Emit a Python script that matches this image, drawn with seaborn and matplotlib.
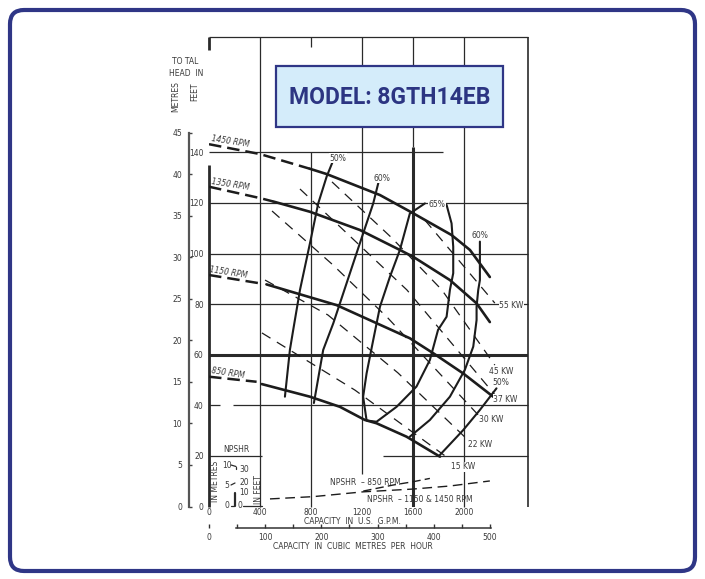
import numpy as np
import pandas as pd
import matplotlib
matplotlib.use("Agg")
import matplotlib.pyplot as plt
import matplotlib.patches as mpatches
from matplotlib.lines import Line2D
import seaborn as sns

# ---------------- data ----------------
gpm_ticks = [0, 400, 800, 1200, 1600, 2000]
ft_ticks = [0, 20, 40, 60, 80, 100, 120, 140]
m_ticks = [0, 5, 10, 15, 20, 25, 30, 35, 40, 45]
m3h_ticks = [0, 100, 200, 300, 400, 500]
m3h_minor = [50, 150, 250, 350, 450]

# head-capacity curves (US gpm, feet); dashed part = outside operating range
h1450_dash_q = [0, 400, 790]
h1450_dash_h = [143.2, 139.3, 133.5]
h1450_q = [790, 922, 1340, 1600, 1901, 2045, 2201]
h1450_h = [133.5, 131.4, 123.1, 115.9, 107.3, 101.4, 90.7]

h1350_dash_q = [0, 400, 500]
h1350_dash_h = [126.4, 121.9, 120.6]
h1350_q = [500, 791, 1182, 1496, 1600, 1888, 2097, 2201]
h1350_h = [120.6, 116.5, 109.3, 101.4, 98.7, 89.5, 80.3, 72.9]

h1150_dash_q = [0, 400]
h1150_dash_h = [91.5, 88.2]
h1150_q = [450, 1000, 1574, 1757, 1992, 2227]
h1150_h = [87.8, 79.6, 66.5, 60.6, 52.6, 43.4]

h850_dash_q = [0, 373]
h850_dash_h = [51.3, 49.3]
h850_q = [413, 791, 1026, 1222, 1313, 1548, 1810]
h850_h = [48.4, 43.4, 39.4, 34.2, 32.9, 27.6, 19.7]

# iso-efficiency curves
eff50_left_q = [975, 922, 856, 791, 713, 660, 634, 595]
eff50_left_h = [137.0, 130.4, 119.8, 104.0, 85.6, 69.8, 61.9, 43.4]
eff60_left_q = [1335, 1287, 1182, 1078, 974, 895, 822]
eff60_left_h = [129.5, 119.8, 104.0, 88.2, 72.4, 61.9, 40.9]
eff65_q = [1862, 1901, 1914, 1914, 1888, 1862, 1795, 1731, 1626, 1470, 1313,
           1235, 1208, 1235, 1287, 1340, 1418, 1496, 1574, 1692]
eff65_h = [119.2, 111.9, 102.7, 92.2, 85.6, 75.0, 69.8, 57.9, 47.4, 39.4, 33.5,
           34.0, 43.4, 52.6, 65.8, 79.0, 90.8, 101.4, 115.8, 119.8]
eff60_right_q = [2123, 2123, 2110, 2097, 2097, 2071, 2005, 1888, 1731, 1574]
eff60_right_h = [104.7, 89.5, 85.6, 79.0, 73.7, 63.2, 54.0, 43.4, 34.2, 27.6]
eff50_right_q = [2253, 2122, 1992, 1810]
eff50_right_h = [46.7, 38.1, 30.2, 20.4]

# constant-power lines (kW)
kw55_q = [1692, 2240]
kw55_h = [113.2, 80.4]
kw45_q = [964, 1434, 1825, 2240]
kw45_h = [128.3, 106.1, 85.6, 55.9]
kw37_q = [713, 1551, 2248]
kw37_h = [125.5, 85.6, 43.7]
kw30_q = [494, 971, 1402, 2139]
kw30_h = [116.8, 95.5, 74.5, 34.6]
kw22_q = [439, 932, 1481, 2029]
kw22_h = [89.5, 75.7, 52.8, 26.3]
kw15_q = [415, 1144, 1872]
kw15_h = [68.6, 46.0, 19.2]

# NPSHR curves (plotted on the main feet grid)
npsh_hi_q = [478, 817, 1209, 1600, 1888, 2201]
npsh_hi_h = [3.0, 3.9, 5.8, 6.9, 8.1, 10.1]
npsh_850_q = [1209, 1444, 1600, 1731]
npsh_850_h = [6.1, 8.5, 9.8, 11.1]

rpm_labels = ["1450 RPM", "1350 RPM", "1150 RPM", "850 RPM"]
rpm_label_q = [164, 164, 149, 149]
rpm_label_h = [144.2, 127.4, 92.6, 52.9]

eff_labels = ["50%", "60%", "65%", "60%", "50%"]
eff_label_q = [1013, 1354, 1786, 2123, 2287]
eff_label_h = [137.7, 129.8, 119.4, 107.3, 49.1]

kw_labels = ["55 KW", "45 KW", "37 KW", "30 KW", "22 KW", "15 KW"]
kw_label_q = [2371, 2293, 2324, 2215, 2123, 1992]
kw_label_h = [79.6, 53.3, 42.4, 34.5, 24.7, 15.7]

# ---------------- styling ----------------
sns.set_style("white")
plt.rcParams["font.family"] = ["Liberation Sans Narrow", "DejaVu Sans"]

W, H = 705, 579
INK = "#1c1c1c"
GRID = "#2a2a2a"
TXT = "#3a3a3a"
NAVY = "#2f3686"
FS = 5.5

fig = plt.figure(figsize=(W / 100, H / 100), dpi=100)
fig.patch.set_facecolor("white")

X0, X1 = 209, 528          # pixel columns of 0 and 2500 gpm
Y0, Y1 = 506.5, 37         # pixel rows of 0 ft and top of grid
QMAX = 2500
HMAX = (Y0 - Y1) / 2.53

ax = fig.add_axes([X0 / W, 1 - Y0 / H, (X1 - X0) / W, (Y0 - Y1) / H])
ax.set_xlim(0, QMAX)
ax.set_ylim(0, HMAX)
ax.set_facecolor("none")
for s in ax.spines.values():
    s.set_visible(False)


def fx(x, y):
    return (x / W, 1 - y / H)


# ---------- grid / frame lines ----------
gk = dict(color=GRID, lw=0.9, zorder=1, clip_on=False)
ax.hlines(140, 0, 1830, **gk)
for lvl in [120, 100, 80]:
    ax.hlines(lvl, 0, QMAX, **gk)
ax.hlines(60, 0, QMAX, color=GRID, lw=2.2, zorder=1)
ax.hlines(40, 0, 86, **gk)
ax.hlines(40, 188, QMAX, **gk)
ax.hlines(20, 0, 415, **gk)
ax.hlines(20, 1360, QMAX, **gk)
ax.hlines(HMAX, 0, QMAX, **gk)

ax.vlines(400, 0, HMAX, **gk)
ax.vlines(800, 0, 140, **gk)
ax.vlines(800, HMAX - 4, HMAX, **gk)
ax.vlines(1200, 13, HMAX, **gk)
ax.vlines(1600, 142, HMAX, **gk)
ax.vlines(1600, 0, 142, color=GRID, lw=2.2, zorder=1)
ax.vlines(2000, 0, HMAX, **gk)
ax.vlines(QMAX, 0, HMAX, color=GRID, lw=1.2, zorder=1, clip_on=False)
ax.vlines(0, 0, 135, color=GRID, lw=2.0, zorder=1, clip_on=False)
ax.vlines(0, HMAX - 5, HMAX, color=GRID, lw=2.0, zorder=1, clip_on=False)

# ---------- curves ----------
def line(q, h, lw, ls="-", z=3):
    sns.lineplot(x=q, y=h, ax=ax, sort=False, estimator=None, color=INK,
                 lw=lw, linestyle=ls, zorder=z, legend=False)


for dq, dh, q, h in [(h1450_dash_q, h1450_dash_h, h1450_q, h1450_h),
                     (h1350_dash_q, h1350_dash_h, h1350_q, h1350_h),
                     (h1150_dash_q, h1150_dash_h, h1150_q, h1150_h),
                     (h850_dash_q, h850_dash_h, h850_q, h850_h)]:
    line(dq, dh, 1.8, (0, (5, 2.4)))
    line(q, h, 1.9)

for q, h in [(eff50_left_q, eff50_left_h), (eff60_left_q, eff60_left_h),
             (eff65_q, eff65_h), (eff60_right_q, eff60_right_h),
             (eff50_right_q, eff50_right_h)]:
    line(q, h, 1.5)

for q, h in [(kw55_q, kw55_h), (kw45_q, kw45_h), (kw37_q, kw37_h),
             (kw30_q, kw30_h), (kw22_q, kw22_h), (kw15_q, kw15_h)]:
    line(q, h, 0.9, (0, (8, 6)), z=2)

line(npsh_hi_q, npsh_hi_h, 1.0, (0, (7, 4)))
line(npsh_850_q, npsh_850_h, 1.0, (0, (6, 3)))

# ---------- labels on curves ----------
for t, q, h in zip(rpm_labels, rpm_label_q, rpm_label_h):
    ax.text(q, h, t, fontsize=FS, style="italic", color=TXT, rotation=-9,
            ha="center", va="center", zorder=5)
for t, q, h in zip(eff_labels, eff_label_q, eff_label_h):
    ax.text(q, h, t, fontsize=FS, color=TXT, ha="center", va="center", zorder=5,
            bbox=dict(boxstyle="square,pad=0.05", fc="white", ec="none"))
for t, q, h in zip(kw_labels, kw_label_q, kw_label_h):
    ax.text(q, h, t, fontsize=FS, color=TXT, ha="center", va="center", zorder=5,
            clip_on=False,
            bbox=dict(boxstyle="square,pad=0.05", fc="white", ec="none"))
ax.text(1226, 9.6, "NPSHR  \u2013 850 RPM", fontsize=FS, color=TXT,
        ha="center", va="center", zorder=5)
ax.text(1653, 2.8, "NPSHR  \u2013 1150 & 1450 RPM", fontsize=FS, color=TXT,
        ha="center", va="center", zorder=5)

# ---------- primary axes ticks ----------
ax.set_xticks(gpm_ticks)
ax.set_yticks(ft_ticks)
ax.tick_params(axis="x", length=0, pad=1.0, labelsize=FS, labelcolor=TXT)
ax.tick_params(axis="y", length=2, width=0.8, pad=1.8, labelsize=FS,
               labelcolor=TXT, color=GRID)
ax.set_xlabel("")
ax.set_ylabel("")

# metres scale
sec_y = ax.secondary_yaxis(-(X0 - 189) / (X1 - X0),
                           functions=(lambda f: f / 3.2808, lambda m: m * 3.2808))
sec_y.set_yticks(m_ticks)
sec_y.tick_params(length=2.5, width=1, direction="in", pad=5, labelsize=FS,
                  labelcolor=TXT, color="#444")
sec_y.spines["left"].set_bounds(0, 45)
sec_y.spines["left"].set_linewidth(1.6)
sec_y.spines["left"].set_color("#555")

# cubic metres per hour scale
sec_x = ax.secondary_xaxis(-(528.3 - Y0) / (Y0 - Y1),
                           functions=(lambda q: q / 4.4029, lambda c: c * 4.4029))
sec_x.set_xticks(m3h_ticks)
sec_x.set_xticks(m3h_minor, minor=True)
sec_x.tick_params(which="both", length=3, width=1, direction="in", pad=3.5,
                  labelsize=FS, labelcolor=TXT, color="#333")
sec_x.spines["bottom"].set_bounds(48, 502)
sec_x.spines["bottom"].set_linewidth(1.1)
sec_x.spines["bottom"].set_color("#333")

# ---------- axis titles ----------
def ftext(x, y, s, **kw):
    kw.setdefault("fontsize", FS)
    kw.setdefault("color", TXT)
    kw.setdefault("ha", "center")
    kw.setdefault("va", "center")
    fig.text(*fx(x, y), s, **kw)


ftext(185, 61.5, "TO TAL")
ftext(186.5, 73.3, "HEAD  IN")
ftext(176, 97, "METRES", rotation=90)
ftext(195, 92, "FEET", rotation=90)
ftext(352, 521.5, "CAPACITY  IN  U.S.  G.P.M.")
ftext(353, 546.7, "CAPACITY  IN  CUBIC  METRES  PER  HOUR")

# NPSHR mini scale
ftext(236.7, 450, "NPSHR")
ftext(215, 481.7, "IN METRES", rotation=90)
ftext(258.3, 490, "IN FEET", rotation=90)
for s, y in [("10", 465), ("5", 485), ("0", 506)]:
    ftext(227, y, s)
for s, y in [("30", 469.3), ("20", 482.3), ("10", 492.7), ("0", 506)]:
    ftext(244.5 if s != "0" else 240, y, s)
for (xa, ya, xb, yb, lw) in [(231, 465, 236, 466.5, 0.9), (236, 466.5, 236, 469, 0.9),
                             (231, 485, 235, 483, 0.9), (235, 493, 235, 506, 1.6),
                             (231, 506, 234, 506, 0.9), (243, 506, 262, 506, 0.9)]:
    fig.add_artist(Line2D([xa / W, xb / W], [1 - ya / H, 1 - yb / H],
                          color=GRID, lw=lw))

# ---------- model box ----------
fig.add_artist(mpatches.Rectangle(fx(276, 127), 227 / W, 61 / H,
                                  transform=fig.transFigure, fc="#d4ecfa",
                                  ec=NAVY, lw=1.6, zorder=6))
fig.text(*fx(389.5, 97), "MODEL: 8GTH14EB", fontsize=16.5, fontweight="bold",
         family=["Roboto", "DejaVu Sans"], color="#2c3582", ha="center",
         va="center", zorder=7)

# ---------- outer rounded frame ----------
fig.add_artist(mpatches.FancyBboxPatch(
    (10, 8), 685, 561, boxstyle="round,pad=0,rounding_size=14",
    transform=None, fill=False, ec=NAVY, lw=3.0, zorder=8))

fig.savefig("out.png", dpi=100)
